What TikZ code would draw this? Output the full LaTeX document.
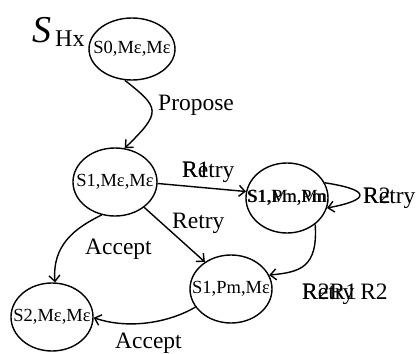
\documentclass[tikz,border=0pt]{standalone}
\usepackage{fontspec}
\setmainfont{Liberation Serif}
\usetikzlibrary{shapes.geometric,arrows.meta}
\begin{document}
\begin{tikzpicture}[x=1pt,y=-1pt,
  state/.style={draw,ellipse,line width=1.4pt,inner sep=0pt,
    label={[inner sep=0pt,font=\fontsize{18.5}{20}\selectfont]center:#1}},
  lbl/.style={inner sep=0pt,anchor=base west,font=\fontsize{23.5}{25}\selectfont},
  edge/.style={line width=1.4pt,-{Straight Barb[length=6pt,width=11pt]}}]
\useasboundingbox (0,0) rectangle (417,353);
\node[state={S0,Mε,Mε},minimum width=86pt,minimum height=62pt] (s0) at (132,49) {};
\node[state={S1,Mε,Mε},minimum width=84pt,minimum height=68pt] (s1) at (115,182) {};
\node[state={S1,Pm,Pm},minimum width=82pt,minimum height=70pt] (s1b) at (287,198) {};
\node[inner sep=0pt,font=\fontsize{18.5}{20}\selectfont] (s1bx) at (s1b.center) {S1,Mn,Mn};
\node[state={S1,Pm,Mε},minimum width=82pt,minimum height=68pt] (s1c) at (231,289) {};
\node[state={S2,Mε,Mε},minimum width=82pt,minimum height=68pt] (s2) at (52,317) {};
\node[inner sep=0pt,anchor=base west,font=\fontsize{38}{40}\selectfont\itshape] (sname) at (32,43) {S};
\node[inner sep=0pt,anchor=base west,font=\fontsize{24}{26}\selectfont] (ssub) at (55,47) {Hx};
\draw[edge] (s0.-103) .. controls (160,108) and (162,112) .. (s1.74);
\node[lbl] (lp) at (158,110) {Propose};
\draw[edge] (s1.-2) -- (s1b.171);
\node[lbl] (lr1a) at (182,177) {Retry};
\node[lbl] (lr1b) at (182,177) {R1};
\draw[edge] (s1.-41) -- (s1c.134);
\node[lbl] (lr) at (172,228) {Retry};
\draw[edge] (s1.-112) .. controls (75,228) and (52,245) .. (s2.85);
\node[lbl] (la1) at (85,254) {Accept};
\draw[edge] (s1b.22) .. controls (372,190) and (370,200) .. (s1b.-14);
\node[lbl] (lr2a) at (363,203) {Retry};
\node[lbl] (lr2b) at (363,203) {R2};
\draw[edge] (s1b.-43) .. controls (318,268) and (300,272) .. (s1c.20);
\node[lbl] (lr3a) at (302,299) {Retry R2};
\node[lbl] (lr3b) at (302,299) {R2R1};
\draw[edge] (s1c.-153) .. controls (170,322) and (130,330) .. (s2.-1);
\node[lbl] (la2) at (115,348) {Accept};
\end{tikzpicture}
\end{document}
